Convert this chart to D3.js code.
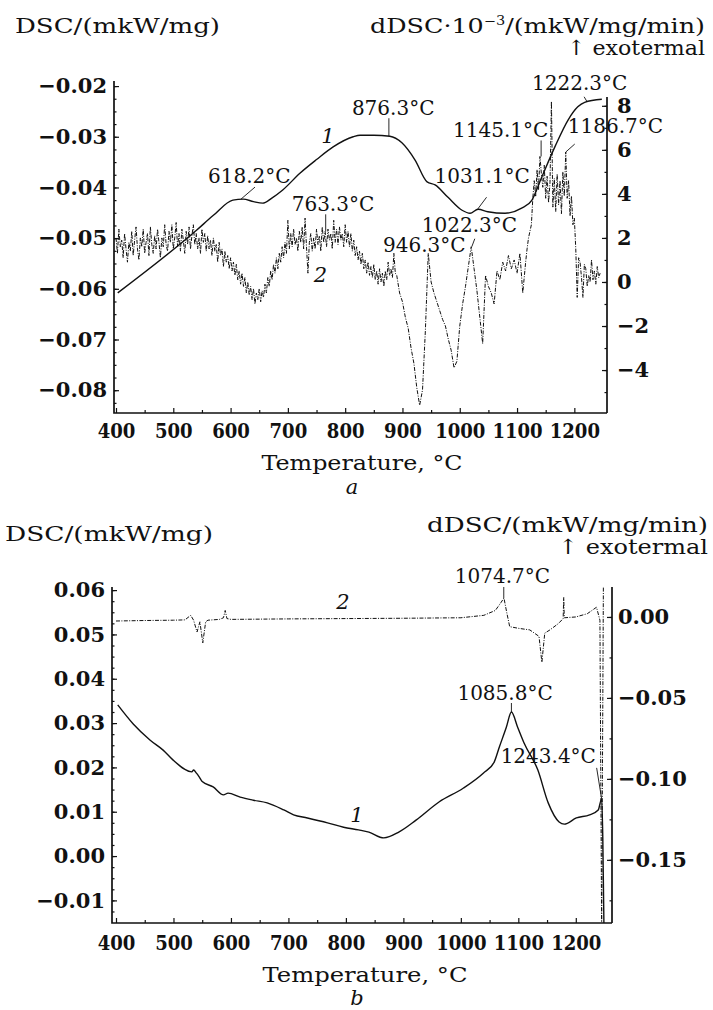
<!DOCTYPE html>
<html><head><meta charset="utf-8">
<script src="https://cdn.jsdelivr.net/npm/d3@7"></script>
<style>
body{margin:0;background:#fff}
text{font-family:"DejaVu Serif","Liberation Serif",serif;fill:#111}
</style>
</head><body>
<svg id="c" width="713" height="1010"></svg>
<script>
// ---------------- DATA ----------------
const tempTicks = [400,500,600,700,800,900,1000,1100,1200];
const aLeftTicks = [-0.02,-0.03,-0.04,-0.05,-0.06,-0.07,-0.08];
const aRightTicks = [8,6,4,2,0,-2,-4];
const bLeftTicks = [0.06,0.05,0.04,0.03,0.02,0.01,0.00,-0.01];
const bRightTicks = [0.00,-0.05,-0.10,-0.15];

// panel a, curve 1: DSC (left axis)
const aDsc = [[403,-0.0608],[541,-0.0484],[570,-0.0455],[604,-0.0425],[622,-0.0423],[640,-0.0428],[656,-0.0431],[672,-0.0421],[691,-0.0405],[721,-0.0372],[750,-0.0345],[779,-0.0320],[814,-0.0300],[826,-0.0297],[850,-0.0297],[878,-0.0299],[899,-0.0312],[922,-0.0346],[943,-0.0389],[957,-0.0395],[979,-0.0419],[1004,-0.0445],[1018,-0.0451],[1032,-0.0443],[1049,-0.0448],[1079,-0.0451],[1108,-0.0441],[1126,-0.0425],[1143,-0.0380],[1166,-0.0320],[1189,-0.0267],[1206,-0.0241],[1218,-0.0232],[1248,-0.0226]];

// panel a, curve 2: dDSC*10^-3 (right axis), noisy trace
const aDdsc = [[400,2.0],[402.5,1.3],[405,2.4],[407.5,1.6],[410,1.9],[412.5,1.1],[415,2.2],[417.5,1.5],[420,0.9],[422.5,1.8],[425,1.4],[427.5,2.3],[430,1.2],[432.5,1.9],[435,2.5],[437.5,1.5],[440,1.0],[442.5,2.0],[445,1.6],[447.5,2.4],[450,1.3],[452.5,1.8],[455,2.2],[457.5,1.2],[460,2.5],[462.5,1.7],[465,1.3],[467.5,2.1],[470,1.5],[472.5,2.4],[475,1.8],[477.5,1.1],[480,2.0],[482.5,1.6],[485,2.6],[487.5,1.7],[490,1.4],[492.5,2.3],[495,1.8],[497.5,2.6],[500,1.5],[502.5,2.0],[505,2.7],[507.5,1.6],[510,2.2],[512.5,1.4],[515,2.4],[517.5,1.9],[520,1.3],[522.5,2.3],[525,1.7],[527.5,2.5],[530,1.5],[532.5,2.1],[535,2.6],[537.5,1.7],[540,2.2],[542.5,1.5],[545,2.0],[547.5,1.3],[550,2.4],[552.5,1.8],[555,2.2],[557.5,1.4],[560,2.1],[562.5,1.5],[565,1.9],[567.5,1.2],[570,2.0],[572.5,1.4],[575,1.7],[577.5,0.9],[580,1.8],[582.5,1.2],[585,1.5],[587.5,0.7],[590,1.4],[592.5,0.9],[595,1.2],[597.5,0.6],[600,1.1],[602.5,0.5],[605,0.9],[607.5,0.3],[610,0.8],[612.5,0.1],[615,0.5],[617.5,-0.1],[620,0.4],[622.5,-0.2],[625,0.2],[627.5,-0.5],[630,0.0],[632.5,-0.6],[635,-0.2],[637.5,-0.8],[640,-0.3],[642.5,-1.0],[645,-0.5],[647.5,-0.8],[650,-0.3],[652.5,-0.9],[655,-0.4],[657.5,-0.7],[660,-0.1],[662.5,-0.5],[665,0.2],[667.5,-0.2],[670,0.5],[672.5,0.1],[675,0.8],[677.5,0.4],[680,1.1],[682.5,0.6],[685,1.3],[687.5,0.9],[690,1.6],[692.5,1.1],[695,1.8],[697.5,1.3],[700,2.8],[702.5,1.5],[705,2.2],[707.5,1.6],[710,2.4],[712.5,1.7],[715,2.0],[717.5,1.4],[720,2.3],[722.5,1.8],[725,2.5],[727.5,1.5],[730,2.9],[732.5,1.6],[735,0.4],[737.5,1.8],[740,2.2],[742.5,1.4],[745,2.0],[747.5,1.5],[750,2.4],[752.5,1.7],[755,2.1],[757.5,1.4],[760,2.5],[762.5,1.8],[765,2.3],[767.5,1.6],[770,2.4],[772.5,1.9],[775,2.2],[777.5,1.5],[780,2.8],[782.5,1.8],[785,2.4],[787.5,1.7],[790,2.5],[792.5,1.9],[795,2.2],[797.5,1.6],[800,2.6],[802.5,1.8],[805,2.3],[807.5,1.6],[810,2.2],[812.5,1.4],[815,1.9],[817.5,1.2],[820,1.6],[822.5,1.0],[825,1.4],[827.5,0.8],[830,1.3],[832.5,0.6],[835,1.0],[837.5,0.4],[840,0.9],[842.5,0.3],[845,0.7],[847.5,0.2],[850,0.8],[852.5,0.1],[855,0.5],[857.5,-0.1],[860,0.6],[862.5,0.0],[865,0.4],[867.5,-0.2],[870,0.5],[872.5,0.1],[875,0.9],[877.5,0.3],[880,0.6],[882.5,0.2],[885,1.3],[887.5,0.4],[890,0.3],[895,-0.5],[900,-0.9],[905,-1.6],[910,-2.1],[915,-3.0],[920,-3.7],[925,-4.8],[930,-5.6],[935,-4.9],[940,-2.2],[945,1.3],[950,0.0],[955,-0.5],[960,-0.9],[965,-1.3],[970,-1.7],[975,-2.0],[980,-2.6],[985,-3.1],[990,-3.9],[995,-3.6],[1000,-2.0],[1005,-1.0],[1010,-0.2],[1015,0.7],[1020,1.6],[1025,0.6],[1030,-0.4],[1035,-1.6],[1040,-2.8],[1045,0.3],[1050,-0.2],[1055,-0.5],[1060,-1.0],[1065,0.5],[1070,0.1],[1075,0.9],[1080,0.5],[1085,1.2],[1090,0.6],[1095,1.0],[1100,0.4],[1105,1.3],[1110,-0.5],[1115,0.9],[1117.5,1.5],[1120,2.0],[1122.5,2.3],[1125,2.6],[1127.5,3.8],[1130,4.6],[1132.5,3.9],[1135,5.1],[1137.5,4.2],[1140,5.7],[1142.5,4.9],[1145,4.3],[1147.5,5.3],[1150,3.8],[1152.5,4.8],[1155,3.6],[1157.5,4.5],[1160,8.2],[1162.5,3.4],[1165,4.7],[1167.5,3.2],[1170,4.9],[1172.5,3.5],[1175,4.6],[1177.5,3.1],[1180,5.0],[1182.5,3.9],[1185,5.9],[1187.5,3.8],[1190,4.6],[1192.5,3.0],[1195,3.9],[1197.5,2.6],[1200,2.9],[1202.5,1.5],[1205,-0.7],[1207.5,1.1],[1210,0.9],[1212.5,0.2],[1215,-0.7],[1217.5,0.8],[1220,0.6],[1222.5,-0.2],[1225,0.3],[1227.5,0.0],[1230,1.0],[1232.5,0.1],[1235,0.5],[1237.5,-0.1],[1240,0.7],[1242.5,0.2],[1245,0.4]];

// panel b, curve 1: DSC (left axis)
const bDsc = [[403,0.0341],[430,0.0298],[459,0.0262],[482,0.0239],[499,0.0217],[532,0.0190],[535,0.0194],[540,0.0187],[545,0.0178],[550,0.0168],[569,0.0156],[587,0.0138],[595,0.0142],[616,0.0133],[639,0.0126],[663,0.0120],[692,0.0104],[709,0.0093],[733,0.0086],[768,0.0075],[796,0.0065],[822,0.0059],[840,0.0054],[866,0.0041],[892,0.0054],[922,0.0081],[962,0.0122],[1004,0.0153],[1039,0.0187],[1058,0.0212],[1067,0.0246],[1079,0.0290],[1088,0.0325],[1099,0.0290],[1110,0.0255],[1134,0.0194],[1152,0.0120],[1171,0.0077],[1180,0.0072],[1201,0.0086],[1224,0.0093],[1239,0.0104],[1245,0.0129],[1247,0.0040],[1249,-0.0160]];

// panel b, curve 2: dDSC (right axis)
const bDdsc = [[400,-0.0025],[450,-0.0022],[500,-0.0020],[520,-0.0018],[530,0.0010],[535,-0.0020],[541,-0.0093],[546,-0.0030],[551,-0.0160],[556,-0.0030],[560,-0.0020],[580,-0.0015],[587,-0.0005],[590,0.0040],[593,-0.0010],[600,-0.0015],[700,-0.0012],[800,-0.0010],[900,-0.0008],[1000,-0.0005],[1040,0.0010],[1060,0.0040],[1070,0.0090],[1075,0.0117],[1080,0.0025],[1085,-0.0060],[1100,-0.0070],[1120,-0.0080],[1136,-0.0120],[1141,-0.0280],[1146,-0.0100],[1155,-0.0080],[1170,-0.0040],[1178,-0.0010],[1179,0.0120],[1180,-0.0005],[1200,0.0000],[1220,0.0020],[1236,0.0060],[1242,-0.0020],[1245,-0.1950],[1248,0.0190]];

// annotations: label, temperature, value, axis
const aNotes = [
  {label:"618.2°C", t:618.2, v:-0.0423, axis:"L"},
  {label:"876.3°C", t:876.3, v:-0.0299, axis:"L"},
  {label:"763.3°C", t:766, v:2.3, axis:"R"},
  {label:"1031.1°C", t:1031.1, v:-0.0443, axis:"L"},
  {label:"1145.1°C", t:1142, v:5.7, axis:"R"},
  {label:"1186.7°C", t:1185, v:5.9, axis:"R"},
  {label:"1222.3°C", t:1222.3, v:-0.0231, axis:"L"},
  {label:"1022.3°C", t:1021, v:1.6, axis:"R"},
  {label:"946.3°C", t:946.3, v:1.3, axis:"R"}
];
const bNotes = [
  {label:"1074.7°C", t:1074.7, v:0.0117, axis:"R"},
  {label:"1085.8°C", t:1088, v:0.0325, axis:"L"},
  {label:"1243.4°C", t:1245, v:0.0129, axis:"L"}
];

// ---------------- LAYOUT ----------------
const svg = d3.select("#c");
svg.append("rect").attr("width",713).attr("height",1010).attr("fill","#fff");
const INK = "#111";

function txt(g, x, y, s, size, o = {}) {
  const t = g.append("text").attr("x", x).attr("y", y)
    .attr("font-size", size).text(s);
  if (o.anchor) t.attr("text-anchor", o.anchor);
  if (o.italic) t.attr("font-style", "italic");
  if (o.bold) t.attr("font-weight", "bold");
  if (o.width) t.attr("textLength", o.width).attr("lengthAdjust", o.adj || "spacingAndGlyphs");
  return t;
}

function drawPanel(P) {
  const g = svg.append("g");
  const x = d3.scaleLinear().domain(P.xDom).range([P.x0, P.x1]);
  const yL = d3.scaleLinear().domain(P.yLDom).range([P.yB, P.yLT]);
  const yR = d3.scaleLinear().domain(P.yRDom).range([P.yB, P.yRT]);

  const cid = "clip" + P.id;
  const top = Math.min(P.yLT, P.yRT) - 4;
  svg.append("clipPath").attr("id", cid).append("rect")
    .attr("x", P.axL).attr("y", top).attr("width", P.axR - P.axL).attr("height", P.yB - top);

  const cg = g.append("g").attr("clip-path", `url(#${cid})`);
  cg.append("path").datum(P.c2)
    .attr("d", d3.line().x(d => x(d[0])).y(d => yR(d[1])))
    .attr("fill", "none").attr("stroke", INK).attr("stroke-width", 1.0)
    .attr("stroke-dasharray", "4,1.4,1,1.4");
  cg.append("path").datum(P.c1)
    .attr("d", d3.line().curve(d3.curveMonotoneX).x(d => x(d[0])).y(d => yL(d[1])))
    .attr("fill", "none").attr("stroke", INK).attr("stroke-width", 1.4);

  g.append("path").attr("d", `M${P.axL},${P.yLT}V${P.yB}H${P.axR}M${P.axR},${P.yRT}V${P.yB}`)
    .attr("fill", "none").attr("stroke", INK).attr("stroke-width", 1.7);

  function style(ax, size, bold) {
    ax.select(".domain").remove();
    ax.attr("font-family", null).attr("font-size", null);
    ax.selectAll("line").attr("stroke", INK).attr("stroke-width", 1.2);
    ax.selectAll("text").attr("font-size", size).attr("fill", INK)
      .attr("font-weight", bold ? "bold" : "normal");
  }
  const gx = g.append("g").attr("transform", `translate(0,${P.yB})`)
    .call(d3.axisBottom(x).tickValues(tempTicks).tickSize(-5).tickSizeOuter(0)
      .tickPadding(P.xPad).tickFormat(d3.format("d")));
  style(gx, 21, true);
  gx.selectAll("text").each(function () {
    const L = this.getComputedTextLength();
    d3.select(this).attr("textLength", L * 0.86).attr("lengthAdjust", "spacingAndGlyphs");
  });
  const gxm = g.append("g").attr("transform", `translate(0,${P.yB})`)
    .call(d3.axisBottom(x).tickValues(d3.range(450, 1250, 100)).tickSize(-3).tickSizeOuter(0).tickFormat(""));
  style(gxm, 10, false);

  const gl = g.append("g").attr("transform", `translate(${P.axL},0)`)
    .call(d3.axisLeft(yL).tickValues(P.lTicks).tickSize(-5).tickSizeOuter(0)
      .tickPadding(7).tickFormat(d3.format(".2f")));
  style(gl, 21, true);
  const glm = g.append("g").attr("transform", `translate(${P.axL},0)`)
    .call(d3.axisLeft(yL).tickValues(P.lMinor).tickSize(-2.5).tickSizeOuter(0).tickFormat(""));
  style(glm, 10, false);

  const gr = g.append("g").attr("transform", `translate(${P.axR},0)`)
    .call(d3.axisRight(yR).tickValues(P.rTicks).tickSize(-5).tickSizeOuter(0)
      .tickPadding(P.rPad).tickFormat(d3.format(P.rFmt)));
  style(gr, 21, true);
  const grm = g.append("g").attr("transform", `translate(${P.axR},0)`)
    .call(d3.axisRight(yR).tickValues(P.rMinor).tickSize(-2.5).tickSizeOuter(0).tickFormat(""));
  style(grm, 10, false);

  P.notes.forEach((n, i) => {
    const L = P.noteLayout[i];
    const px = x(n.t), py = (n.axis === "L" ? yL : yR)(n.v);
    g.append("line").attr("x1", px).attr("y1", py).attr("x2", px + L[2]).attr("y2", py + L[3])
      .attr("stroke", INK).attr("stroke-width", 0.9);
    txt(g, px + L[0], py + L[1], n.label, 20);
  });
  P.curveLabels.forEach(c => {
    const py = (c.axis === "L" ? yL : yR)(c.v);
    txt(g, x(c.t), py, c.s, 21, {anchor: "middle", italic: true});
  });
  return g;
}

drawPanel({
  id: "a", xDom: [400, 1257], x0: 116, x1: 607, axL: 114, axR: 607,
  yLDom: [-0.0845, -0.019], yRDom: [-5.95, 8.4], yB: 413, yLT: 81, yRT: 97,
  c1: aDsc, c2: aDdsc, xPad: 10,
  lTicks: aLeftTicks, lMinor: d3.range(-0.0825, -0.0199, 0.0025),
  rTicks: aRightTicks, rMinor: d3.range(-5, 8.5, 1), rPad: 10, rFmt: "d",
  notes: aNotes,
  noteLayout: [[-33,-16,14,-12],[-37,-21,0,-18],[-34,-20,0,-17],[-43,-26,9,-12],[-88,-19,0,-16],[2,-19,9,-8],[-55,-12,-3,-5],[-50,-15,3,-8],[-46,-1,0,0]],
  curveLabels: [{s:"1", t:770, v:-0.0312, axis:"L"}, {s:"2", t:757, v:0.0, axis:"R"}]
});
drawPanel({
  id: "b", xDom: [400, 1263], x0: 116, x1: 612, axL: 112, axR: 612,
  yLDom: [-0.0151, 0.0607], yRDom: [-0.189, 0.0185], yB: 923, yLT: 587, yRT: 587,
  c1: bDsc, c2: bDdsc, xPad: 12,
  lTicks: bLeftTicks, lMinor: d3.range(-0.0125, 0.0601, 0.0025),
  rTicks: bRightTicks, rMinor: d3.range(-0.175, 0.0151, 0.025), rPad: 6, rFmt: ".2f",
  notes: bNotes,
  noteLayout: [[-49,-15,0,-11],[-54,-12,0,-9],[-101,-36,-5,-31]],
  curveLabels: [{s:"2", t:795, v:0.005, axis:"R"}, {s:"1", t:819, v:0.0077, axis:"L"}]
});

// Titles
const T = svg.append("g");
txt(T, 15, 33, "DSC/(mkW/mg)", 21, {width: 205});
const rt = T.append("text").attr("x", 370).attr("y", 33).attr("font-size", 21)
  .attr("textLength", 335).attr("lengthAdjust", "spacingAndGlyphs");
rt.append("tspan").text("dDSC·10");
rt.append("tspan").attr("font-size", 12).attr("dy", -8).text("−3");
rt.append("tspan").attr("dy", 8).text("/(mkW/mg/min)");
txt(T, 567, 55, "↑ exotermal", 21, {width: 138});
txt(T, 362, 470, "Temperature, °C", 21, {anchor: "middle", width: 201});
txt(T, 352, 494, "a", 21, {anchor: "middle", italic: true});

txt(T, 5, 541, "DSC/(mkW/mg)", 21, {width: 208});
txt(T, 427, 532, "dDSC/(mkW/mg/min)", 21, {width: 281});
txt(T, 558, 554, "↑ exotermal", 21, {width: 150});
txt(T, 365, 982, "Temperature, °C", 21, {anchor: "middle", width: 205});
txt(T, 357, 1005, "b", 21, {anchor: "middle", italic: true});
</script>
</body></html>
